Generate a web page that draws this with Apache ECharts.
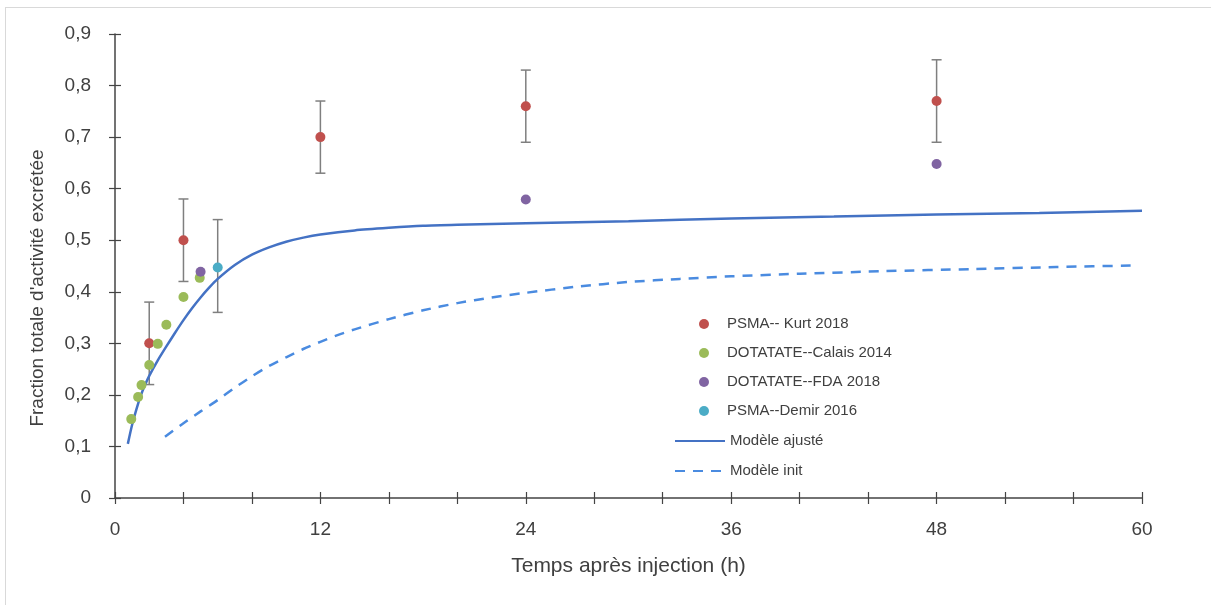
<!DOCTYPE html>
<html>
<head>
<meta charset="utf-8">
<script src="https://cdn.jsdelivr.net/npm/echarts@6/dist/echarts.min.js"></script>
<style>
  html, body { margin: 0; padding: 0; background: #fff; }
  #frame { position: absolute; left: 5px; top: 7px; width: 1206px; height: 598px;
           border-top: 1px solid #d9d9d9; border-left: 1px solid #d9d9d9; }
  #chart { position: absolute; left: 0; top: 0; width: 1211px; height: 605px; }
</style>
</head>
<body>
<div id="frame"></div>
<div id="chart"></div>
<script>
// PSMA-- Kurt 2018 (mean + error bar)
const kurtX = [2, 4, 12, 24, 48];
const kurtY = [0.30, 0.50, 0.70, 0.76, 0.77];
const kurtLow = [0.22, 0.42, 0.63, 0.69, 0.69];
const kurtHigh = [0.38, 0.58, 0.77, 0.83, 0.85];

// DOTATATE--Calais 2014
const calaisX = [0.95, 1.35, 1.55, 2, 2.5, 3, 4, 4.95];
const calaisY = [0.153, 0.196, 0.219, 0.258, 0.299, 0.336, 0.39, 0.427];

// DOTATATE--FDA 2018
const fdaX = [5, 24, 48];
const fdaY = [0.439, 0.579, 0.648];

// PSMA--Demir 2016
const demirX = [6];
const demirY = [0.447];
const demirLow = [0.36];
const demirHigh = [0.54];

// model curves
const fitX = [0.75, 1, 1.25, 1.5, 1.75, 2, 2.5, 3, 3.5, 4, 4.5, 5, 5.5, 6, 7, 8, 9, 10, 11, 12, 14, 16, 18, 20, 24, 30, 36, 42, 48, 54, 60];
const fitY = [0.105, 0.142, 0.172, 0.198, 0.219, 0.237, 0.267, 0.294, 0.32, 0.345, 0.368, 0.389, 0.408, 0.425, 0.452, 0.472, 0.486, 0.497, 0.505, 0.511, 0.519, 0.524, 0.528, 0.530, 0.533, 0.537, 0.542, 0.546, 0.550, 0.553, 0.557];
const initX = [2.92, 4, 5, 6, 7, 8, 9, 10, 11, 12, 13, 14, 16, 18, 20, 22, 24, 27, 30, 33, 36, 40, 45, 50, 55, 59.6];
const initY = [0.119, 0.145, 0.168, 0.19, 0.214, 0.236, 0.256, 0.273, 0.289, 0.303, 0.316, 0.327, 0.347, 0.364, 0.378, 0.389, 0.398, 0.410, 0.419, 0.425, 0.430, 0.435, 0.440, 0.444, 0.448, 0.451];

const xTicks = [0, 12, 24, 36, 48, 60];

const zip = (xs, ys) => xs.map((x, i) => [x, ys[i]]);

const errData = zip(kurtX, kurtLow).map((p, i) => [p[0], p[1], kurtHigh[i]])
  .concat(zip(demirX, demirLow).map((p, i) => [p[0], p[1], demirHigh[i]]));

const font = 'Liberation Sans, Arial, sans-serif';
const axisColor = '#404040';

function errorBar(params, api) {
  const x = api.value(0);
  const lo = api.coord([x, api.value(1)]);
  const hi = api.coord([x, api.value(2)]);
  const w = 5;
  const st = { stroke: '#7f7f7f', lineWidth: 1.5 };
  return {
    type: 'group',
    children: [
      { type: 'line', shape: { x1: lo[0], y1: lo[1], x2: hi[0], y2: hi[1] }, style: st },
      { type: 'line', shape: { x1: lo[0] - w, y1: lo[1], x2: lo[0] + w, y2: lo[1] }, style: st },
      { type: 'line', shape: { x1: hi[0] - w, y1: hi[1], x2: hi[0] + w, y2: hi[1] }, style: st }
    ]
  };
}

const chart = echarts.init(document.getElementById('chart'));
const baseX = { type: 'value', min: 0, max: 60, interval: 4, splitLine: { show: false } };
const baseY = { type: 'value', min: 0, max: 0.9, interval: 0.1, splitLine: { show: false } };

chart.setOption({
  animation: false,
  textStyle: { fontFamily: font },
  grid: { left: 115, right: 69, top: 34, bottom: 107 },
  legend: [
    {
      data: ['PSMA-- Kurt 2018', 'DOTATATE--Calais 2014', 'DOTATATE--FDA 2018', 'PSMA--Demir 2016'],
      orient: 'vertical', left: 694, top: 311,
      itemWidth: 10, itemHeight: 10, itemGap: 13,
      selectedMode: false,
      formatter: n => '{t|' + n + '}',
      textStyle: { color: axisColor, fontSize: 15, lineHeight: 16,
        rich: { t: { padding: [0, 0, 0, 13], fontSize: 15, color: axisColor, fontFamily: font } } }
    },
    {
      data: ['Modèle ajusté', 'Modèle init'],
      orient: 'vertical', left: 669, top: 428,
      itemWidth: 50, itemHeight: 14, itemGap: 14,
      selectedMode: false,
      itemStyle: { opacity: 0 },
      textStyle: { color: axisColor, fontSize: 15, lineHeight: 16 }
    }
  ],
  xAxis: [
    Object.assign({}, baseX, {
      name: 'Temps après injection (h)', nameLocation: 'middle', nameGap: 58,
      nameTextStyle: { fontSize: 21, color: axisColor },
      axisLine: { onZero: false, lineStyle: { color: '#444', width: 1.5 } },
      axisTick: { length: 6, lineStyle: { color: '#444', width: 1.2 } },
      axisLabel: { fontSize: 19, color: axisColor, margin: 22,
        formatter: v => (xTicks.indexOf(v) >= 0 ? String(v) : '') }
    }),
    Object.assign({}, baseX, {
      position: 'bottom',
      axisLine: { show: false, onZero: false },
      axisTick: { inside: true, length: 6, lineStyle: { color: '#444', width: 1.2 } },
      axisLabel: { show: false }
    })
  ],
  yAxis: [
    Object.assign({}, baseY, {
      name: "Fraction totale d'activité excrétée", nameLocation: 'middle', nameGap: 68,
      nameTextStyle: { fontSize: 19, color: axisColor, padding: [0, 44, 0, 0] },
      axisLine: { onZero: false, lineStyle: { color: '#444', width: 1.5 } },
      axisTick: { length: 6, lineStyle: { color: '#444', width: 1.2 } },
      axisLabel: { fontSize: 19, color: axisColor, margin: 24,
        formatter: v => (v === 0 ? '0' : v.toFixed(1).replace('.', ',')) }
    }),
    Object.assign({}, baseY, {
      position: 'left',
      axisLine: { show: false, onZero: false },
      axisTick: { inside: true, length: 6, lineStyle: { color: '#444', width: 1.2 } },
      axisLabel: { show: false }
    })
  ],
  series: [
    {
      name: 'errors', type: 'custom', renderItem: errorBar, data: errData,
      encode: { x: 0, y: [1, 2] }, z: 1, silent: true
    },
    {
      name: 'Modèle ajusté', type: 'line', data: zip(fitX, fitY), smooth: 0.25,
      showSymbol: false, symbol: 'none',
      lineStyle: { color: '#4472C4', width: 2.5 }, itemStyle: { color: '#4472C4' }, z: 2
    },
    {
      name: 'Modèle init', type: 'line', data: zip(initX, initY), smooth: 0.25,
      showSymbol: false, symbol: 'none',
      lineStyle: { color: '#4A8BE0', width: 2.5, type: [10, 8] }, itemStyle: { color: '#4A8BE0' }, z: 2
    },
    {
      name: 'PSMA-- Kurt 2018', type: 'scatter', data: zip(kurtX, kurtY), symbolSize: 10,
      itemStyle: { color: '#C0504D', opacity: 1 }, z: 3
    },
    {
      name: 'DOTATATE--Calais 2014', type: 'scatter', data: zip(calaisX, calaisY), symbolSize: 10,
      itemStyle: { color: '#9BBB59', opacity: 1 }, z: 3
    },
    {
      name: 'DOTATATE--FDA 2018', type: 'scatter', data: zip(fdaX, fdaY), symbolSize: 10,
      itemStyle: { color: '#8064A2', opacity: 1 }, z: 3
    },
    {
      name: 'PSMA--Demir 2016', type: 'scatter', data: zip(demirX, demirY), symbolSize: 10,
      itemStyle: { color: '#4BACC6', opacity: 1 }, z: 3
    }
  ]
});
</script>
</body>
</html>
